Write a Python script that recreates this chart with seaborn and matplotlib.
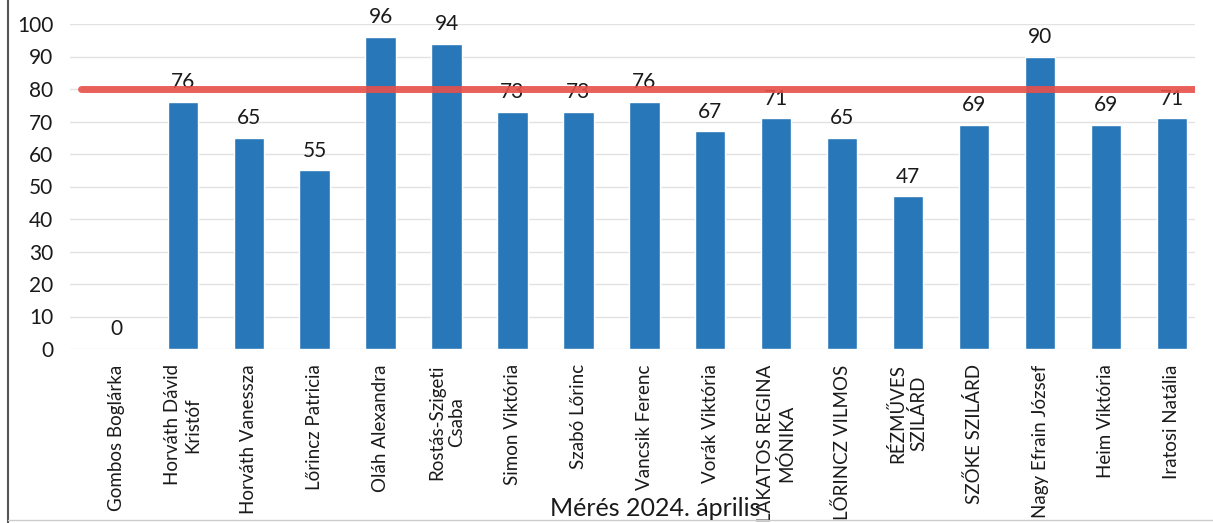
import matplotlib
matplotlib.use("Agg")
import matplotlib.pyplot as plt
from matplotlib.lines import Line2D
import numpy as np
import pandas as pd
import seaborn as sns

names = [
    "Gombos Boglárka", "Horváth Dávid\nKristóf", "Horváth Vanessza",
    "Lőrincz Patricia", "Oláh Alexandra", "Rostás-Szigeti\nCsaba",
    "Simon Viktória", "Szabó Lőrinc", "Vancsik Ferenc", "Vorák Viktória",
    "LAKATOS REGINA\nMÓNIKA", "LŐRINCZ VILMOS", "RÉZMŰVES\nSZILÁRD",
    "SZŐKE SZILÁRD", "Nagy Efrain József", "Heim Viktória", "Iratosi Natália",
]
scores = [0, 76, 65, 55, 96, 94, 73, 73, 76, 67, 71, 65, 47, 69, 90, 69, 71]
threshold = 80
x_title = "Mérés 2024. április"

df = pd.DataFrame({"name": names, "score": scores})

sns.set_theme(style="white")
plt.rcParams["font.family"] = ["Lato", "DejaVu Sans"]

fig = plt.figure(figsize=(12.13, 5.23), dpi=100)
ax = fig.add_axes([70 / 1213, 1 - 349 / 523, 1125 / 1213, 325 / 523])

sns.barplot(data=df, x="name", y="score", color="#2877b8", saturation=1,
            width=0.46, ax=ax, zorder=2)

ax.set_ylim(0, 100)
ax.set_xlim(-0.71, len(names) - 1 + 0.35)
ax.set_yticks(range(0, 101, 10))
ax.yaxis.grid(True, color="#e2e2e2", linewidth=1, zorder=0)
for s in ax.spines.values():
    s.set_visible(False)
ax.tick_params(axis="y", labelsize=15, length=0, pad=12, colors="#1a1a1a")
ax.tick_params(axis="x", length=0, pad=11)
ax.set_xticks(range(len(names)))
ax.set_xticklabels(names, rotation=90, fontsize=13.5, color="#1a1a1a",
                   va="top", ha="center", multialignment="center",
                   linespacing=1.2)
ax.set_ylabel("")
ax.set_xlabel("")

for i, v in enumerate(scores):
    ax.annotate(str(v), (i, v), xytext=(0, 7), textcoords="offset points",
                ha="center", va="bottom", fontsize=15, color="#1a1a1a",
                annotation_clip=False)

ax.axhline(threshold, xmin=0.01, xmax=1.0, color="#e8504a", linewidth=5,
           zorder=3, alpha=0.9)

fig.text(655 / 1213, 1 - 508 / 523, x_title, ha="center", va="center",
         fontsize=18, color="#1a1a1a")

fig.add_artist(Line2D([8 / 1213, 8 / 1213], [0, 1], color="#555555",
                      linewidth=1.5, transform=fig.transFigure))
fig.add_artist(Line2D([8 / 1213, 1], [3 / 523, 3 / 523], color="#cccccc",
                      linewidth=1, transform=fig.transFigure))

fig.savefig("out.png", dpi=100)
plt.close(fig)
